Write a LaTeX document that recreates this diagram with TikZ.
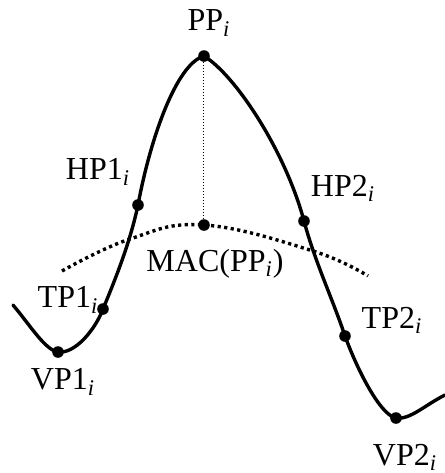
\documentclass[tikz,border=0pt]{standalone}
\usepackage{fontspec}
\setmainfont{Liberation Serif}
\begin{document}
\begin{tikzpicture}[x=0.5pt,y=-0.5pt,
  curve/.style={line width=1.7pt,line join=round,line cap=round},
  macline/.style={line width=1.7pt,dash pattern=on 1.6pt off 1.7pt},
  vline/.style={line width=0.5pt,dash pattern=on 0.5pt off 1pt},
  dot/.style={circle,fill=black,inner sep=0pt,minimum size=5.8pt},
  lbl/.style={font=\fontsize{16}{19}\selectfont,inner sep=0pt}]
\useasboundingbox (0,0) rectangle (445,473);
% points
\coordinate (s) at (13,305);
\coordinate (e) at (445,395);
\coordinate (pp) at (204,56);
\coordinate (hp1) at (138,205);
\coordinate (hp2) at (304,221);
\coordinate (tp1) at (103,309);
\coordinate (tp2) at (345,336);
\coordinate (vp1) at (58,352);
\coordinate (vp2) at (396,418);
\coordinate (mac) at (204,225);
% curves
\draw[curve] (s) .. controls (30,325) and (45,350) .. (vp1)
  .. controls (75,354) and (95,330) .. (tp1)
  .. controls (115,280) and (130,243) .. (hp1)
  .. controls (150,140) and (176,64) .. (pp)
  .. controls (235,75) and (285,150) .. (hp2)
  .. controls (315,262) and (333,300) .. (tp2)
  .. controls (357,369) and (380,415) .. (vp2)
  .. controls (410,420) and (425,405) .. (e);
\draw[macline] plot[smooth,tension=0.7] coordinates {(62,271) (130,239) (204,225) (313,251) (368,276)};
\draw[vline] (pp) -- (mac);
\foreach \p in {pp,hp1,hp2,tp1,tp2,vp1,vp2,mac} \node[dot] (d\p) at (\p) {};
% labels
\node[lbl] (lpp) at (209,23) {PP\textsubscript{\textit{i}}};
\node[lbl] (lhp1) at (98,172) {HP1\textsubscript{\textit{i}}};
\node[lbl] (lhp2) at (343,188) {HP2\textsubscript{\textit{i}}};
\node[lbl] (lmac) at (215,264) {MAC(PP\textsubscript{\textit{i}})};
\node[lbl] (ltp1) at (68,300) {TP1\textsubscript{\textit{i}}};
\node[lbl] (ltp2) at (392,320) {TP2\textsubscript{\textit{i}}};
\node[lbl] (lvp1) at (63,382) {VP1\textsubscript{\textit{i}}};
\node[lbl] (lvp2) at (405,457) {VP2\textsubscript{\textit{i}}};
\end{tikzpicture}
\end{document}
